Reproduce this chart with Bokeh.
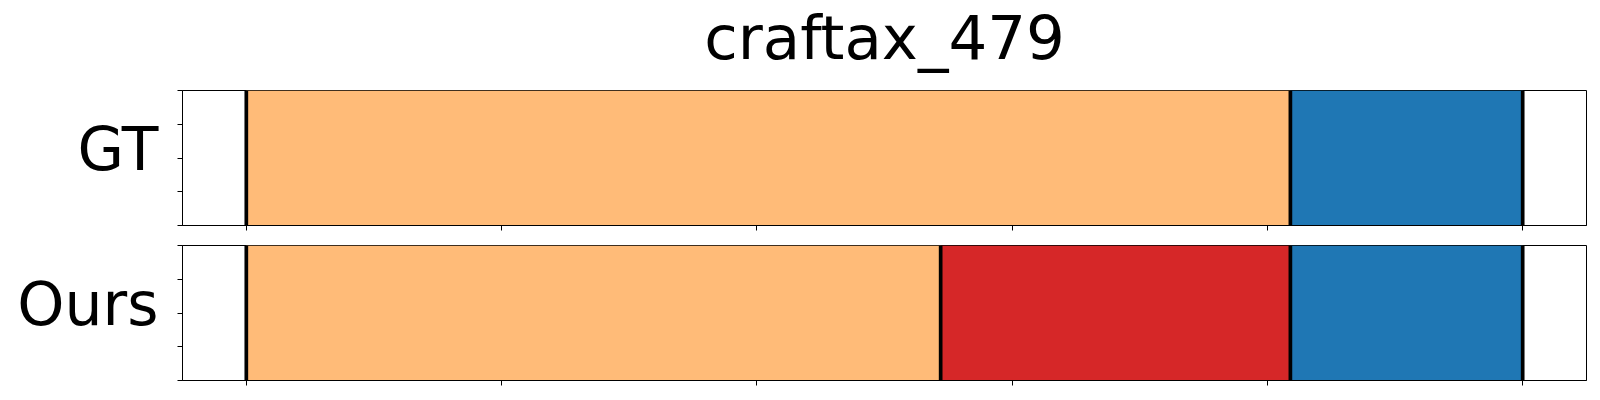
from bokeh.plotting import figure
from bokeh.layouts import column
from bokeh.models import (Range1d, FixedTicker, ColumnDataSource, CustomJSTickFormatter,
                          LinearAxis)
from bokeh.core.properties import value
from bokeh.embed import file_html
from bokeh.resources import INLINE

# ---- data ----
title_text = "craftax_479"
total_steps = 500
row_labels = ["GT", "Ours"]
gt_starts = [0, 409]
gt_ends = [409, 500]
gt_colors = ["#ffbb78", "#1f77b4"]
ours_starts = [0, 272, 409]
ours_ends = [272, 409, 500]
ours_colors = ["#ffbb78", "#d62728", "#1f77b4"]
x_ticks = [0, 100, 200, 300, 400, 500]
y_ticks = [0, 0.25, 0.5, 0.75, 1.0]
label_pos = [0.565]

FONT = "DejaVu Sans"
BORDER_L = 182
BORDER_R = 6
FRAME_W = 1404
FRAME_H = 135
TITLE_H = 90
TITLE_Y = 53.3  # position of the title text inside the title strip


def hide_labels(ax):
    ax.major_label_text_font_size = "1px"
    ax.major_label_text_color = None
    ax.major_label_standoff = 0
    ax.formatter = CustomJSTickFormatter(code="return '';")


def make_title(text, x_range):
    t = figure(
        frame_width=FRAME_W, frame_height=TITLE_H,
        min_border_left=BORDER_L, min_border_right=BORDER_R,
        min_border_top=0, min_border_bottom=0,
        x_range=x_range, y_range=Range1d(0, TITLE_H),
        x_axis_location=None, y_axis_location=None,
        output_backend="svg", toolbar_location=None, title=None,
        background_fill_color="white", border_fill_color="white",
    )
    t.grid.visible = False
    t.outline_line_color = None
    src = ColumnDataSource(dict(x=[total_steps / 2], y=[TITLE_Y], text=[text]))
    t.text(x="x", y="y", text="text", source=src, text_align=value("center"),
           text_baseline=value("alphabetic"), text_font=value(FONT),
           text_font_size=value("61px"), text_color="black")
    return t


def make_panel(label, starts, ends, colors, border_top, border_bottom):
    pad = 0.05 * total_steps
    p = figure(
        frame_width=FRAME_W, frame_height=FRAME_H,
        min_border_left=BORDER_L, min_border_right=BORDER_R,
        min_border_top=border_top, min_border_bottom=border_bottom,
        x_range=Range1d(-pad, total_steps + pad), y_range=Range1d(0, 1),
        output_backend="svg", toolbar_location=None, title=None,
        background_fill_color="white", border_fill_color="white",
    )
    src = ColumnDataSource(dict(left=starts, right=ends, color=colors))
    p.quad(left="left", right="right", bottom=0, top=1, fill_color="color",
           line_color=None, source=src)
    bounds = list(starts) + [ends[-1]]
    bsrc = ColumnDataSource(dict(x=bounds, y0=[0] * len(bounds), y1=[1] * len(bounds)))
    p.segment(x0="x", y0="y0", x1="x", y1="y1", line_color="black", line_width=3.7,
              source=bsrc)

    p.grid.visible = False
    p.outline_line_color = "black"
    p.outline_line_width = 1
    p.outline_line_alpha = 1

    xa = p.xaxis[0]
    xa.ticker = FixedTicker(ticks=x_ticks)
    hide_labels(xa)
    xa.major_tick_out = 5
    xa.major_tick_in = 0
    xa.minor_tick_line_color = None
    xa.axis_line_color = "black"
    xa.major_tick_line_color = "black"

    ya = p.yaxis[0]
    ya.ticker = FixedTicker(ticks=y_ticks)
    hide_labels(ya)
    ya.major_tick_out = 5
    ya.major_tick_in = 0
    ya.minor_tick_line_color = None
    ya.axis_line_color = "black"
    ya.major_tick_line_color = "black"

    # row name, drawn as a horizontal tick label on an extra left axis
    la = LinearAxis(
        ticker=FixedTicker(ticks=label_pos),
        formatter=CustomJSTickFormatter(args=dict(lab=label), code="return lab;"),
        major_tick_out=0, major_tick_in=0, major_tick_line_color=None,
        minor_tick_line_color=None, axis_line_color=None,
        major_label_text_font=FONT, major_label_text_font_size="60px",
        major_label_text_color="black", major_label_standoff=19,
    )
    p.add_layout(la, "left")
    return p


p1 = make_panel(row_labels[0], gt_starts, gt_ends, gt_colors, 0, 10)
p2 = make_panel(row_labels[1], ours_starts, ours_ends, ours_colors, 10, 12)
p2.x_range = p1.x_range
tf = make_title(title_text, p1.x_range)

layout = column(tf, p1, p2, spacing=0)
open("out.html", "w").write(file_html(layout, INLINE))
